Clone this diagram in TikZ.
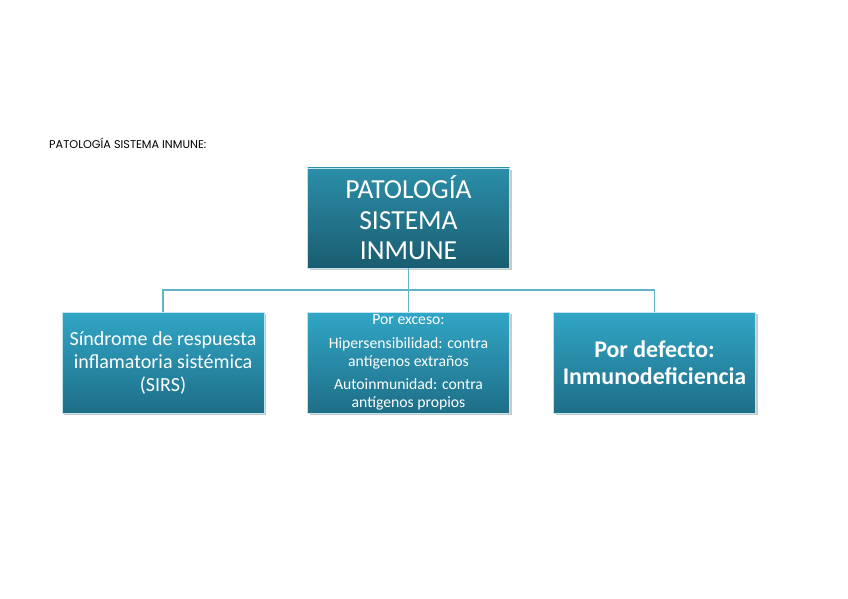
\documentclass[tikz,border=0pt]{standalone}
\usepackage{fontspec}
\setmainfont{Carlito}
\newfontfamily\titlefont{Poppins}
\usetikzlibrary{shadows}

\definecolor{boxtop}{HTML}{31A6C6}
\definecolor{boxbot}{HTML}{1E6E87}
\definecolor{headtop}{HTML}{2B8EA9}
\definecolor{headbot}{HTML}{1A5D70}
\definecolor{linkcol}{HTML}{62B4CB}

\newlength{\pxu}
\setlength{\pxu}{0.03cm}
\tikzset{
  box/.style={rectangle, draw=white!70!boxtop, line width=0.6pt,
    top color=boxtop, bottom color=boxbot, text=white,
    minimum width=202\pxu, minimum height=101\pxu, inner sep=2pt, align=center,
    drop shadow={shadow xshift=2pt, shadow yshift=-2pt, opacity=0.35, fill=black!60}},
  headbox/.style={box, top color=headtop, bottom color=headbot, minimum height=100\pxu},
  link/.style={draw=linkcol, line width=1.3pt}
}

\begin{document}
\begin{tikzpicture}[x=0.03cm, y=-0.03cm]
    % marco de la pagina
    \useasboundingbox[fill=white] (0,0) rectangle (848,599);

    % titulo pequeno
    \node[anchor=west, inner sep=0pt, font=\titlefont\fontsize{9.6pt}{11pt}\selectfont] (titulo) at (49,143) {PATOLOGÍA SISTEMA INMUNE:};

    % caja principal
    \node[headbox, font=\fontsize{23.5pt}{26pt}\selectfont] (raiz) at (408.5,218) {PATOLOGÍA\\SISTEMA\\INMUNE};

    % cajas de segundo nivel
    \node[box, font=\fontsize{17.1pt}{19.6pt}\selectfont] (sirs) at (163,362.5)
        {Síndrome de respuesta\\inflamatoria sistémica\\(SIRS)};
    \node[box, font=\fontsize{13.4pt}{15.3pt}\selectfont] (exceso) at (408.5,362.5)
        {Por exceso:\\[5pt]Hipersensibilidad: contra\\antígenos extraños\\[5pt]Autoinmunidad: contra\\antígenos propios};
    \node[box, font=\bfseries\fontsize{20.4pt}{23pt}\selectfont] (defecto) at (654.5,362.5)
        {Por defecto:\\Inmunodeficiencia};

    % conectores
    \coordinate (bus) at (408.5,290);
    \draw[link] (raiz.south) -- (bus);
    \draw[link] (sirs.north) |- (bus) -| (defecto.north);
    \draw[link] (bus) -- (exceso.north);
\end{tikzpicture}
\end{document}
